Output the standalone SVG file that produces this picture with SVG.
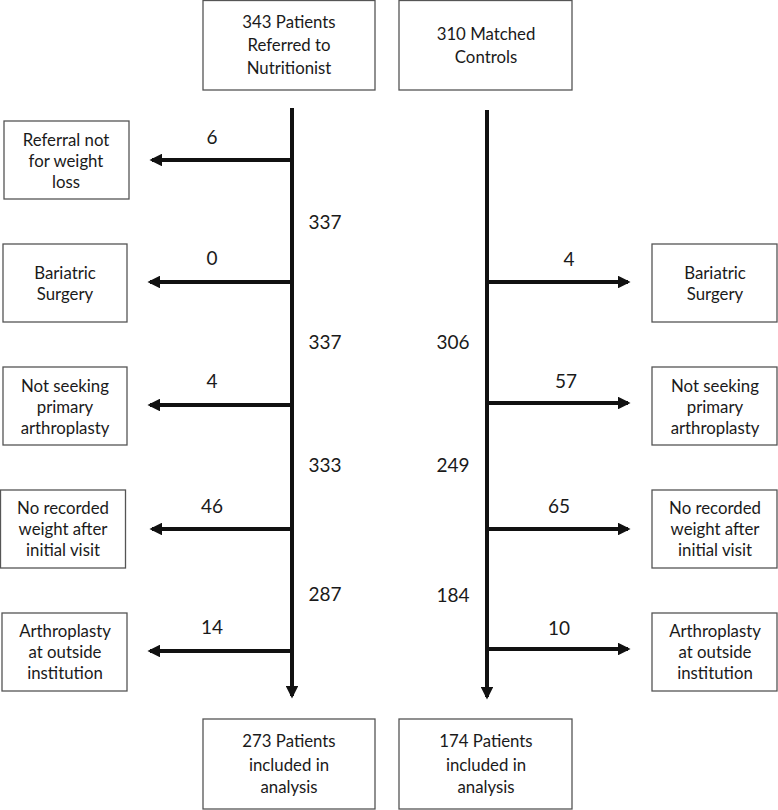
<svg xmlns="http://www.w3.org/2000/svg" width="778" height="810" viewBox="0 0 778 810">
<style>
rect.box{fill:#fff;stroke:#555;stroke-width:1.3}
text{font-family:Lato,"Liberation Sans",sans-serif;font-size:16.8px;fill:#1a1a1a;text-anchor:middle}
text.n{font-size:19px}
.ln{stroke:#111;stroke-width:4;fill:none}
</style>
<defs>
<marker id="ah" viewBox="0 0 10 10" refX="8" refY="5" markerWidth="3.2" markerHeight="3.2" orient="auto" markerUnits="strokeWidth">
<path d="M0,0 L10,5 L0,10 z" fill="#111"/>
</marker>
</defs>
<rect width="778" height="810" fill="#fff"/>
<g id="connectors">
<line class="ln" x1="292" y1="108" x2="292" y2="696" marker-end="url(#ah)"/>
<line class="ln" x1="487" y1="110" x2="487" y2="697" marker-end="url(#ah)"/>
<line class="ln" x1="292" y1="160" x2="152" y2="160" marker-end="url(#ah)"/>
<line class="ln" x1="292" y1="282" x2="150" y2="282" marker-end="url(#ah)"/>
<line class="ln" x1="292" y1="405" x2="150" y2="405" marker-end="url(#ah)"/>
<line class="ln" x1="292" y1="529" x2="152" y2="529" marker-end="url(#ah)"/>
<line class="ln" x1="292" y1="651" x2="150" y2="651" marker-end="url(#ah)"/>
<line class="ln" x1="487" y1="282" x2="628" y2="282" marker-end="url(#ah)"/>
<line class="ln" x1="487" y1="403" x2="628" y2="403" marker-end="url(#ah)"/>
<line class="ln" x1="487" y1="529" x2="628" y2="529" marker-end="url(#ah)"/>
<line class="ln" x1="487" y1="649" x2="628" y2="649" marker-end="url(#ah)"/>
<text class="n" x="212" y="144">6</text>
<text class="n" x="212" y="265">0</text>
<text class="n" x="212" y="388">4</text>
<text class="n" x="212" y="513">46</text>
<text class="n" x="212" y="634">14</text>
<text class="n" x="325" y="229">337</text>
<text class="n" x="325" y="349">337</text>
<text class="n" x="325" y="472">333</text>
<text class="n" x="325" y="601">287</text>
<text class="n" x="569" y="266">4</text>
<text class="n" x="566" y="388">57</text>
<text class="n" x="559" y="513">65</text>
<text class="n" x="559" y="635">10</text>
<text class="n" x="453" y="349">306</text>
<text class="n" x="453" y="472">249</text>
<text class="n" x="453" y="602">184</text>
</g>
<g id="start-patients">
<rect class="box" x="203" y="0.5" width="172" height="89.5"/>
<text x="289" y="28">343 Patients</text>
<text x="289" y="51">Referred to</text>
<text x="289" y="74">Nutritionist</text>
</g>
<g id="start-controls">
<rect class="box" x="399" y="0.5" width="173" height="89.5"/>
<text x="486" y="40">310 Matched</text>
<text x="486" y="63">Controls</text>
</g>
<g id="l-referral">
<rect class="box" x="4" y="121" width="125" height="78"/>
<text x="66" y="146">Referral not</text>
<text x="66" y="167">for weight</text>
<text x="66" y="188">loss</text>
</g>
<g id="l-bariatric">
<rect class="box" x="3" y="244" width="124" height="78"/>
<text x="65" y="279">Bariatric</text>
<text x="65" y="300">Surgery</text>
</g>
<g id="l-notseeking">
<rect class="box" x="3" y="367" width="124" height="78"/>
<text x="65" y="392">Not seeking</text>
<text x="65" y="413">primary</text>
<text x="65" y="434">arthroplasty</text>
</g>
<g id="l-noweight">
<rect class="box" x="0.5" y="490" width="125" height="78"/>
<text x="63" y="514">No recorded</text>
<text x="63" y="535">weight after</text>
<text x="63" y="556">initial visit</text>
</g>
<g id="l-outside">
<rect class="box" x="2" y="613" width="125" height="78"/>
<text x="65" y="637">Arthroplasty</text>
<text x="65" y="658">at outside</text>
<text x="65" y="679">institution</text>
</g>
<g id="r-bariatric">
<rect class="box" x="652" y="244" width="125" height="78"/>
<text x="715" y="279">Bariatric</text>
<text x="715" y="300">Surgery</text>
</g>
<g id="r-notseeking">
<rect class="box" x="652" y="367" width="125" height="78"/>
<text x="715" y="392">Not seeking</text>
<text x="715" y="413">primary</text>
<text x="715" y="434">arthroplasty</text>
</g>
<g id="r-noweight">
<rect class="box" x="652" y="490" width="125" height="78"/>
<text x="715" y="514">No recorded</text>
<text x="715" y="535">weight after</text>
<text x="715" y="556">initial visit</text>
</g>
<g id="r-outside">
<rect class="box" x="652" y="613" width="125" height="78"/>
<text x="715" y="637">Arthroplasty</text>
<text x="715" y="658">at outside</text>
<text x="715" y="679">institution</text>
</g>
<g id="end-patients">
<rect class="box" x="203" y="719" width="172" height="90"/>
<text x="289" y="747">273 Patients</text>
<text x="289" y="771">included in</text>
<text x="289" y="793">analysis</text>
</g>
<g id="end-controls">
<rect class="box" x="399" y="719" width="173" height="90"/>
<text x="486" y="747">174 Patients</text>
<text x="486" y="771">included in</text>
<text x="486" y="793">analysis</text>
</g>
</svg>
